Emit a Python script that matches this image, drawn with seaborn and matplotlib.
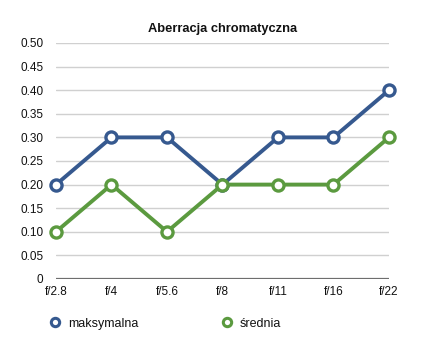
import matplotlib
matplotlib.use("Agg")
import matplotlib.pyplot as plt
from matplotlib.lines import Line2D
import seaborn as sns
import pandas as pd

apertures = ["f/2.8", "f/4", "f/5.6", "f/8", "f/11", "f/16", "f/22"]
maksymalna = [0.20, 0.30, 0.30, 0.20, 0.30, 0.30, 0.40]
srednia = [0.10, 0.20, 0.10, 0.20, 0.20, 0.20, 0.30]
series_names = ["maksymalna", "średnia"]
colors = ["#36598f", "#5b9a3f"]
yticks = [0, 0.05, 0.10, 0.15, 0.20, 0.25, 0.30, 0.35, 0.40, 0.45, 0.50]
ytick_labels = ["0", "0.05", "0.10", "0.15", "0.20", "0.25", "0.30", "0.35", "0.40", "0.45", "0.50"]

sns.set_style("white")
plt.rcParams["font.family"] = ["Liberation Sans", "DejaVu Sans"]
plt.rcParams["text.color"] = "#111111"
plt.rcParams["xtick.color"] = "#111111"
plt.rcParams["ytick.color"] = "#111111"

df = pd.DataFrame({
    "x": list(range(len(apertures))) * 2,
    "value": maksymalna + srednia,
    "series": [series_names[0]] * len(apertures) + [series_names[1]] * len(apertures),
})

fig = plt.figure(figsize=(4.22, 3.49), dpi=100)
ax = fig.add_axes([0.1327, 0.2006, 0.9218 - 0.1327, 0.8768 - 0.2006])

for y in yticks[1:]:
    ax.axhline(y, color="#d0d0d0", lw=1.0, zorder=0)
ax.axhline(0, color="#6e6e6e", lw=1.6, zorder=1)

sns.lineplot(data=df, x="x", y="value", hue="series", palette=colors,
             marker="o", markersize=8, markerfacecolor="white",
             markeredgewidth=2.4, linewidth=2.8, ax=ax, legend=False,
             zorder=3)
for line, c in zip(ax.lines[-2:], colors):
    line.set_markeredgecolor(c)
    line.set_clip_on(False)

ax.set_xlim(0, len(apertures) - 1)
ax.set_ylim(0, 0.5)
ax.set_xticks(range(len(apertures)))
ax.set_xticklabels(apertures, fontsize=8.5)
ax.set_yticks(yticks)
ax.set_yticklabels(ytick_labels, fontsize=8.5)
ax.tick_params(axis="x", length=0, pad=5)
ax.tick_params(axis="y", length=0, pad=9)
ax.set_xlabel("")
ax.set_ylabel("")
for s in ax.spines.values():
    s.set_visible(False)

ax.set_title("Aberracja chromatyczna", fontsize=9.3, fontweight="bold", pad=8)

handles = [Line2D([], [], color=c, marker="o", markersize=6, markerfacecolor="white",
                  markeredgewidth=2.2, linestyle="none") for c in colors]
fig.legend(handles, series_names, loc="center left", bbox_to_anchor=(0.09, 0.073),
           ncol=2, frameon=False, fontsize=9, columnspacing=6.6,
           handletextpad=0.5, handlelength=1.0)

fig.savefig("out.png", dpi=100)
